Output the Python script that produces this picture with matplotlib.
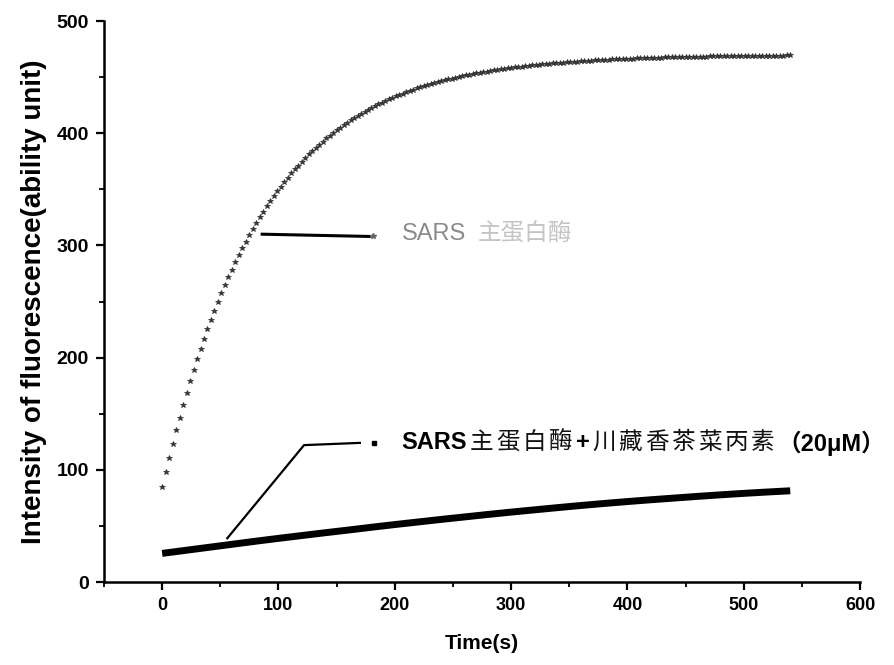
import matplotlib.pyplot as plt
import numpy as np
from matplotlib.offsetbox import TextArea, HPacker, AnnotationBbox
from matplotlib.ticker import MultipleLocator

# enzyme alone: fluorescence read every 3 s
time_a = np.arange(0, 541, 3)
enzyme = [
    85.0, 98.2, 110.9, 123.3, 135.1, 146.6, 157.7, 168.4, 178.8, 188.7,
    198.4, 207.7, 216.7, 225.4, 233.8, 241.9, 249.7, 257.2, 264.5, 271.6,
    278.4, 285.0, 291.3, 297.4, 303.3, 309.1, 314.6, 319.9, 325.0, 330.0,
    334.8, 339.5, 343.9, 348.3, 352.4, 356.5, 360.3, 364.1, 367.7, 371.2,
    374.6, 377.9, 381.1, 384.1, 387.1, 389.9, 392.6, 395.3, 397.9, 400.3,
    402.7, 405.0, 407.3, 409.4, 411.5, 413.5, 415.4, 417.3, 419.1, 420.9,
    422.5, 424.2, 425.7, 427.3, 428.7, 430.1, 431.5, 432.8, 434.1, 435.3,
    436.5, 437.7, 438.8, 439.9, 440.9, 441.9, 442.8, 443.8, 444.7, 445.5,
    446.4, 447.2, 448.0, 448.7, 449.5, 450.2, 450.8, 451.5, 452.1, 452.7,
    453.3, 453.9, 454.5, 455.0, 455.5, 456.0, 456.5, 457.0, 457.4, 457.8,
    458.2, 458.6, 459.0, 459.4, 459.8, 460.1, 460.5, 460.8, 461.1, 461.4,
    461.7, 462.0, 462.3, 462.5, 462.8, 463.0, 463.3, 463.5, 463.7, 463.9,
    464.2, 464.4, 464.5, 464.7, 464.9, 465.1, 465.3, 465.4, 465.6, 465.7,
    465.9, 466.0, 466.2, 466.3, 466.4, 466.5, 466.7, 466.8, 466.9, 467.0,
    467.1, 467.2, 467.3, 467.4, 467.5, 467.6, 467.6, 467.7, 467.8, 467.9,
    468.0, 468.0, 468.1, 468.2, 468.2, 468.3, 468.3, 468.4, 468.5, 468.5,
    468.6, 468.6, 468.7, 468.7, 468.7, 468.8, 468.8, 468.9, 468.9, 468.9,
    469.0, 469.0, 469.1, 469.1, 469.1, 469.1, 469.2, 469.2, 469.2, 469.3,
    469.3,
]

# enzyme + inhibitor (20 uM)
time_b = [0, 20, 40, 60, 80, 100, 120, 140, 160, 180, 200, 220, 240, 260,
          280, 300, 320, 340, 360, 380, 400, 420, 440, 460, 480, 500, 520, 540]
inhibited = [25.5, 28.2, 30.9, 33.6, 36.3, 38.9, 41.4, 43.9, 46.3, 48.8,
             51.2, 53.5, 55.8, 58.0, 60.2, 62.3, 64.3, 66.3, 68.2, 70.0,
             71.7, 73.3, 74.8, 76.3, 77.7, 79.0, 80.2, 81.3]

xticks = [0, 100, 200, 300, 400, 500, 600]
yticks = [0, 100, 200, 300, 400, 500]

plt.rcParams['font.family'] = ['Liberation Sans', 'Noto Sans CJK SC', 'DejaVu Sans']

fig = plt.figure(figsize=(8.94, 6.65), dpi=100)
ax = fig.add_axes([0.1163, 0.1248, 0.8457, 0.8436])

ax.plot(time_a, enzyme, ls='none', marker='*', ms=3.8, color='#333333', mew=0.5)
ax.plot(time_b, inhibited, color='black', lw=5, solid_capstyle='butt')

ax.set_xlim(-50, 600)
ax.set_ylim(0, 500)
ax.set_xticks(xticks)
ax.set_yticks(yticks)
ax.xaxis.set_minor_locator(MultipleLocator(50))
ax.yaxis.set_minor_locator(MultipleLocator(50))
for side in ['top', 'right']:
    ax.spines[side].set_visible(False)
for side in ['left', 'bottom']:
    ax.spines[side].set_linewidth(1.8)
ax.tick_params(which='major', direction='out', length=6, width=1.6,
               labelsize=13, pad=5)
ax.tick_params(axis='y', which='major', labelsize=14)
ax.tick_params(which='minor', direction='out', length=3.5, width=1.3)
for lab in ax.get_xticklabels() + ax.get_yticklabels():
    lab.set_fontweight('bold')

ax.set_xlabel('Time(s)', fontsize=15, fontweight='bold', labelpad=14)
ax.set_ylabel('Intensity of fluorescence(ability unit)', fontsize=20,
              fontweight='bold', labelpad=7)

# leader for the enzyme-only curve
ax.plot([86, 178], [310, 308], color='black', lw=2.2)
ax.plot([181], [308], marker='*', ms=4, color='#666666', ls='none')
ax.text(206, 310, 'SARS', fontsize=17, color='#8a8a8a', va='center')
ax.text(271, 310, '主蛋白酶', fontsize=17, color='#c4c4c4', va='center')

# leader for the inhibited curve
ax.plot([56, 122, 170], [39, 122, 124], color='black', lw=1.6)
ax.plot([182], [124], marker='s', ms=3.5, color='black', ls='none')

parts = [('SARS', 'bold', 'black')]
parts += [(ch, 'normal', '#111111') for ch in '主蛋白酶']
parts += [('+', 'bold', 'black')]
parts += [(ch, 'normal', '#111111') for ch in '川藏香茶菜丙素']
parts += [('（20μM）', 'bold', 'black')]
boxes = [TextArea(s, textprops=dict(fontweight=w, color=c, fontsize=17))
         for s, w, c in parts]
label = HPacker(children=boxes, align='center', pad=0, sep=2)
ab = AnnotationBbox(label, (206, 124), xycoords='data', box_alignment=(0, 0.5),
                    frameon=False, pad=0)
ax.add_artist(ab)

fig.savefig('out.png', dpi=100)
